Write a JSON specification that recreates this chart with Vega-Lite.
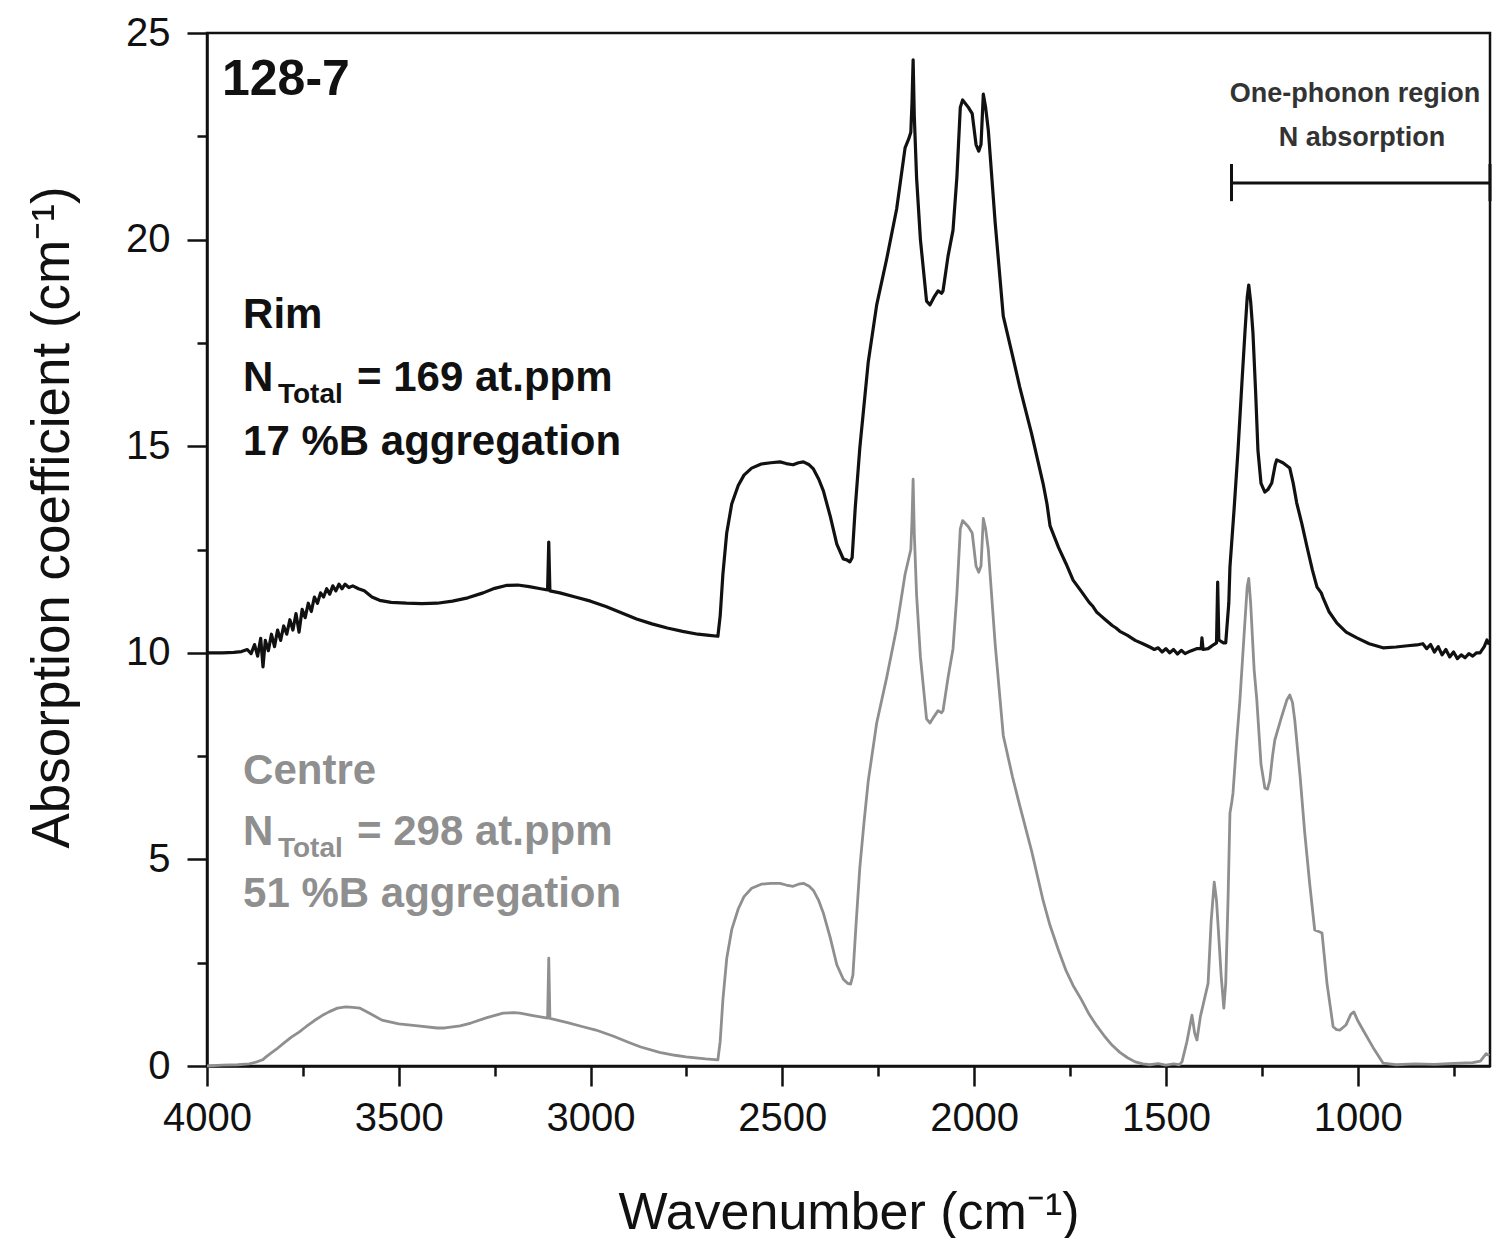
{
  "$schema": "https://vega.github.io/schema/vega-lite/v6.json",
  "width": 1283,
  "height": 1033,
  "autosize": {"type": "none"},
  "padding": {"left": 207, "top": 33, "right": 2, "bottom": 172},
  "background": "white",
  "config": {"view": {"stroke": "#111111", "strokeWidth": 2.5}, "font": "Liberation Sans"},
  "datasets": {
    "rim": [
      {"wn":4000,"a":10.0},{"wn":3960,"a":10.0},{"wn":3930,"a":10.01},{"wn":3910,"a":10.03},{"wn":3895,"a":10.08},{"wn":3885,"a":9.98},{"wn":3876,"a":10.2},{"wn":3868,"a":9.92},{"wn":3860,"a":10.35},{"wn":3854,"a":9.66},{"wn":3848,"a":10.3},{"wn":3840,"a":10.05},{"wn":3832,"a":10.45},{"wn":3824,"a":10.15},{"wn":3816,"a":10.55},{"wn":3808,"a":10.3},{"wn":3800,"a":10.65},{"wn":3792,"a":10.45},{"wn":3784,"a":10.8},{"wn":3776,"a":10.55},{"wn":3768,"a":10.95},{"wn":3760,"a":10.5},{"wn":3752,"a":11.05},{"wn":3744,"a":10.85},{"wn":3736,"a":11.2},{"wn":3728,"a":11.0},{"wn":3720,"a":11.35},{"wn":3712,"a":11.2},{"wn":3704,"a":11.45},{"wn":3696,"a":11.35},{"wn":3688,"a":11.55},{"wn":3680,"a":11.42},{"wn":3672,"a":11.62},{"wn":3664,"a":11.5},{"wn":3656,"a":11.66},{"wn":3648,"a":11.55},{"wn":3640,"a":11.66},{"wn":3630,"a":11.58},{"wn":3620,"a":11.62},{"wn":3605,"a":11.55},{"wn":3590,"a":11.5},{"wn":3570,"a":11.35},{"wn":3550,"a":11.27},{"wn":3520,"a":11.22},{"wn":3480,"a":11.2},{"wn":3440,"a":11.19},{"wn":3400,"a":11.2},{"wn":3360,"a":11.25},{"wn":3320,"a":11.33},{"wn":3280,"a":11.45},{"wn":3250,"a":11.56},{"wn":3220,"a":11.63},{"wn":3190,"a":11.64},{"wn":3160,"a":11.6},{"wn":3130,"a":11.55},{"wn":3112,"a":11.52},{"wn":3109,"a":12.68},{"wn":3106,"a":11.5},{"wn":3080,"a":11.45},{"wn":3040,"a":11.35},{"wn":3000,"a":11.25},{"wn":2960,"a":11.12},{"wn":2920,"a":10.97},{"wn":2880,"a":10.82},{"wn":2840,"a":10.7},{"wn":2800,"a":10.6},{"wn":2760,"a":10.52},{"wn":2720,"a":10.45},{"wn":2690,"a":10.42},{"wn":2668,"a":10.4},{"wn":2662,"a":10.9},{"wn":2655,"a":11.9},{"wn":2645,"a":12.9},{"wn":2632,"a":13.6},{"wn":2615,"a":14.05},{"wn":2600,"a":14.3},{"wn":2580,"a":14.47},{"wn":2555,"a":14.57},{"wn":2530,"a":14.6},{"wn":2506,"a":14.62},{"wn":2490,"a":14.58},{"wn":2472,"a":14.55},{"wn":2458,"a":14.6},{"wn":2445,"a":14.62},{"wn":2430,"a":14.55},{"wn":2419,"a":14.45},{"wn":2405,"a":14.2},{"wn":2393,"a":13.92},{"wn":2375,"a":13.3},{"wn":2358,"a":12.63},{"wn":2341,"a":12.27},{"wn":2332,"a":12.25},{"wn":2324,"a":12.2},{"wn":2318,"a":12.3},{"wn":2310,"a":13.5},{"wn":2298,"a":14.96},{"wn":2287,"a":16.0},{"wn":2276,"a":17.04},{"wn":2254,"a":18.42},{"wn":2228,"a":19.53},{"wn":2202,"a":20.74},{"wn":2180,"a":22.22},{"wn":2170,"a":22.45},{"wn":2165,"a":22.6},{"wn":2162,"a":23.3},{"wn":2159,"a":24.35},{"wn":2156,"a":23.0},{"wn":2150,"a":21.5},{"wn":2140,"a":20.0},{"wn":2124,"a":18.51},{"wn":2115,"a":18.42},{"wn":2105,"a":18.6},{"wn":2094,"a":18.76},{"wn":2085,"a":18.7},{"wn":2081,"a":18.76},{"wn":2068,"a":19.6},{"wn":2055,"a":20.23},{"wn":2045,"a":21.5},{"wn":2036,"a":23.2},{"wn":2030,"a":23.38},{"wn":2015,"a":23.2},{"wn":2005,"a":23.05},{"wn":1995,"a":22.3},{"wn":1988,"a":22.14},{"wn":1982,"a":22.3},{"wn":1976,"a":23.52},{"wn":1970,"a":23.2},{"wn":1963,"a":22.65},{"wn":1945,"a":20.4},{"wn":1924,"a":18.15},{"wn":1900,"a":17.2},{"wn":1881,"a":16.43},{"wn":1850,"a":15.3},{"wn":1820,"a":14.09},{"wn":1810,"a":13.6},{"wn":1802,"a":13.07},{"wn":1780,"a":12.55},{"wn":1760,"a":12.15},{"wn":1742,"a":11.76},{"wn":1720,"a":11.48},{"wn":1700,"a":11.22},{"wn":1690,"a":11.12},{"wn":1680,"a":10.98},{"wn":1670,"a":10.9},{"wn":1660,"a":10.82},{"wn":1650,"a":10.74},{"wn":1640,"a":10.66},{"wn":1630,"a":10.6},{"wn":1620,"a":10.52},{"wn":1600,"a":10.42},{"wn":1580,"a":10.3},{"wn":1560,"a":10.22},{"wn":1542,"a":10.14},{"wn":1530,"a":10.08},{"wn":1520,"a":10.12},{"wn":1510,"a":10.02},{"wn":1500,"a":10.1},{"wn":1490,"a":10.0},{"wn":1480,"a":10.08},{"wn":1470,"a":9.97},{"wn":1460,"a":10.06},{"wn":1450,"a":9.98},{"wn":1437,"a":10.04},{"wn":1420,"a":10.1},{"wn":1408,"a":10.1},{"wn":1406,"a":10.36},{"wn":1403,"a":10.08},{"wn":1390,"a":10.1},{"wn":1375,"a":10.2},{"wn":1368,"a":10.24},{"wn":1365,"a":11.71},{"wn":1362,"a":10.31},{"wn":1350,"a":10.24},{"wn":1344,"a":10.24},{"wn":1336,"a":11.2},{"wn":1333,"a":12.08},{"wn":1322,"a":13.5},{"wn":1312,"a":14.9},{"wn":1302,"a":16.5},{"wn":1294,"a":17.74},{"wn":1288,"a":18.6},{"wn":1284,"a":18.9},{"wn":1279,"a":18.5},{"wn":1273,"a":17.74},{"wn":1266,"a":16.3},{"wn":1260,"a":14.9},{"wn":1252,"a":14.1},{"wn":1242,"a":13.89},{"wn":1234,"a":13.95},{"wn":1224,"a":14.11},{"wn":1215,"a":14.55},{"wn":1211,"a":14.67},{"wn":1195,"a":14.6},{"wn":1177,"a":14.47},{"wn":1168,"a":14.1},{"wn":1159,"a":13.63},{"wn":1145,"a":13.1},{"wn":1132,"a":12.56},{"wn":1118,"a":12.0},{"wn":1106,"a":11.59},{"wn":1095,"a":11.45},{"wn":1091,"a":11.35},{"wn":1075,"a":11.0},{"wn":1054,"a":10.72},{"wn":1030,"a":10.5},{"wn":1002,"a":10.36},{"wn":970,"a":10.22},{"wn":934,"a":10.12},{"wn":900,"a":10.14},{"wn":870,"a":10.17},{"wn":846,"a":10.19},{"wn":830,"a":10.22},{"wn":820,"a":10.1},{"wn":810,"a":10.2},{"wn":800,"a":10.02},{"wn":790,"a":10.15},{"wn":780,"a":9.95},{"wn":770,"a":10.08},{"wn":760,"a":9.9},{"wn":750,"a":10.02},{"wn":740,"a":9.86},{"wn":730,"a":9.95},{"wn":720,"a":9.88},{"wn":710,"a":9.98},{"wn":700,"a":9.92},{"wn":690,"a":10.0},{"wn":681,"a":10.0},{"wn":670,"a":10.15},{"wn":663,"a":10.31},{"wn":657,"a":10.2}
    ],
    "centre": [
      {"wn":4000,"a":0.0},{"wn":3960,"a":0.02},{"wn":3920,"a":0.03},{"wn":3890,"a":0.05},{"wn":3870,"a":0.1},{"wn":3855,"a":0.15},{"wn":3846,"a":0.22},{"wn":3835,"a":0.3},{"wn":3820,"a":0.4},{"wn":3799,"a":0.56},{"wn":3780,"a":0.7},{"wn":3760,"a":0.82},{"wn":3742,"a":0.95},{"wn":3720,"a":1.1},{"wn":3700,"a":1.22},{"wn":3682,"a":1.31},{"wn":3660,"a":1.4},{"wn":3638,"a":1.43},{"wn":3620,"a":1.42},{"wn":3601,"a":1.4},{"wn":3575,"a":1.27},{"wn":3544,"a":1.11},{"wn":3500,"a":1.02},{"wn":3450,"a":0.97},{"wn":3400,"a":0.92},{"wn":3380,"a":0.92},{"wn":3340,"a":0.97},{"wn":3312,"a":1.04},{"wn":3270,"a":1.17},{"wn":3228,"a":1.28},{"wn":3200,"a":1.29},{"wn":3184,"a":1.28},{"wn":3150,"a":1.22},{"wn":3112,"a":1.16},{"wn":3109,"a":2.61},{"wn":3106,"a":1.15},{"wn":3060,"a":1.05},{"wn":3020,"a":0.95},{"wn":2986,"a":0.87},{"wn":2940,"a":0.72},{"wn":2900,"a":0.57},{"wn":2869,"a":0.46},{"wn":2820,"a":0.33},{"wn":2780,"a":0.26},{"wn":2751,"a":0.22},{"wn":2700,"a":0.17},{"wn":2668,"a":0.15},{"wn":2662,"a":0.6},{"wn":2655,"a":1.6},{"wn":2645,"a":2.6},{"wn":2632,"a":3.3},{"wn":2615,"a":3.8},{"wn":2600,"a":4.1},{"wn":2580,"a":4.3},{"wn":2555,"a":4.4},{"wn":2530,"a":4.42},{"wn":2506,"a":4.42},{"wn":2490,"a":4.38},{"wn":2472,"a":4.35},{"wn":2458,"a":4.4},{"wn":2445,"a":4.42},{"wn":2430,"a":4.35},{"wn":2419,"a":4.25},{"wn":2405,"a":4.0},{"wn":2393,"a":3.7},{"wn":2375,"a":3.1},{"wn":2358,"a":2.45},{"wn":2341,"a":2.1},{"wn":2330,"a":2.0},{"wn":2322,"a":1.98},{"wn":2316,"a":2.2},{"wn":2308,"a":3.4},{"wn":2298,"a":4.8},{"wn":2287,"a":5.9},{"wn":2276,"a":6.9},{"wn":2254,"a":8.3},{"wn":2228,"a":9.4},{"wn":2202,"a":10.6},{"wn":2180,"a":11.9},{"wn":2170,"a":12.3},{"wn":2165,"a":12.5},{"wn":2162,"a":13.2},{"wn":2159,"a":14.2},{"wn":2156,"a":12.9},{"wn":2150,"a":11.4},{"wn":2140,"a":9.9},{"wn":2124,"a":8.4},{"wn":2115,"a":8.3},{"wn":2105,"a":8.45},{"wn":2094,"a":8.6},{"wn":2085,"a":8.55},{"wn":2081,"a":8.6},{"wn":2068,"a":9.4},{"wn":2055,"a":10.1},{"wn":2045,"a":11.4},{"wn":2036,"a":13.0},{"wn":2030,"a":13.2},{"wn":2015,"a":13.05},{"wn":2005,"a":12.9},{"wn":1995,"a":12.1},{"wn":1988,"a":11.95},{"wn":1982,"a":12.1},{"wn":1976,"a":13.25},{"wn":1970,"a":13.0},{"wn":1963,"a":12.5},{"wn":1945,"a":10.2},{"wn":1924,"a":8.0},{"wn":1900,"a":7.0},{"wn":1881,"a":6.3},{"wn":1850,"a":5.2},{"wn":1820,"a":4.0},{"wn":1802,"a":3.4},{"wn":1780,"a":2.8},{"wn":1760,"a":2.3},{"wn":1742,"a":1.95},{"wn":1720,"a":1.6},{"wn":1700,"a":1.25},{"wn":1680,"a":0.97},{"wn":1660,"a":0.72},{"wn":1640,"a":0.5},{"wn":1620,"a":0.33},{"wn":1600,"a":0.2},{"wn":1580,"a":0.1},{"wn":1560,"a":0.05},{"wn":1542,"a":0.03},{"wn":1520,"a":0.06},{"wn":1500,"a":0.02},{"wn":1480,"a":0.05},{"wn":1465,"a":0.03},{"wn":1458,"a":0.1},{"wn":1445,"a":0.6},{"wn":1432,"a":1.23},{"wn":1425,"a":0.8},{"wn":1419,"a":0.63},{"wn":1410,"a":1.2},{"wn":1403,"a":1.48},{"wn":1395,"a":1.8},{"wn":1390,"a":2.0},{"wn":1382,"a":3.5},{"wn":1374,"a":4.45},{"wn":1368,"a":4.0},{"wn":1364,"a":3.41},{"wn":1356,"a":2.2},{"wn":1349,"a":1.4},{"wn":1344,"a":2.0},{"wn":1338,"a":4.02},{"wn":1333,"a":6.12},{"wn":1328,"a":6.4},{"wn":1325,"a":6.61},{"wn":1316,"a":7.8},{"wn":1307,"a":8.86},{"wn":1295,"a":10.6},{"wn":1288,"a":11.6},{"wn":1284,"a":11.8},{"wn":1279,"a":11.2},{"wn":1270,"a":9.6},{"wn":1263,"a":8.86},{"wn":1252,"a":7.3},{"wn":1242,"a":6.73},{"wn":1235,"a":6.7},{"wn":1229,"a":6.92},{"wn":1222,"a":7.5},{"wn":1216,"a":7.89},{"wn":1200,"a":8.4},{"wn":1185,"a":8.85},{"wn":1177,"a":8.98},{"wn":1170,"a":8.8},{"wn":1164,"a":8.37},{"wn":1150,"a":7.0},{"wn":1138,"a":5.64},{"wn":1125,"a":4.4},{"wn":1112,"a":3.29},{"wn":1100,"a":3.25},{"wn":1093,"a":3.22},{"wn":1080,"a":2.0},{"wn":1064,"a":0.95},{"wn":1055,"a":0.88},{"wn":1046,"a":0.87},{"wn":1030,"a":1.0},{"wn":1018,"a":1.25},{"wn":1010,"a":1.31},{"wn":1000,"a":1.1},{"wn":986,"a":0.87},{"wn":960,"a":0.45},{"wn":934,"a":0.07},{"wn":900,"a":0.03},{"wn":850,"a":0.05},{"wn":800,"a":0.04},{"wn":750,"a":0.06},{"wn":700,"a":0.08},{"wn":680,"a":0.12},{"wn":665,"a":0.3},{"wn":657,"a":0.25}
    ],
    "notes": [
      {"kind": "id", "label": "128-7", "wn": 3961, "a": 23.5},
      {"kind": "rim", "label": "Rim", "wn": 3906, "a": 17.86},
      {"kind": "rim", "label": "N", "wn": 3906, "a": 16.34},
      {"kind": "rimsub", "label": "Total", "wn": 3815, "a": 16.05},
      {"kind": "rim", "label": "= 169 at.ppm", "wn": 3609, "a": 16.34},
      {"kind": "rim", "label": "17 %B aggregation", "wn": 3906, "a": 14.79},
      {"kind": "centre", "label": "Centre", "wn": 3906, "a": 6.82},
      {"kind": "centre", "label": "N", "wn": 3906, "a": 5.35},
      {"kind": "centresub", "label": "Total", "wn": 3815, "a": 5.06},
      {"kind": "centre", "label": "= 298 at.ppm", "wn": 3609, "a": 5.35},
      {"kind": "centre", "label": "51 %B aggregation", "wn": 3906, "a": 3.85},
      {"kind": "region", "label": "One-phonon region", "wn": 1007, "a": 23.33},
      {"kind": "region", "label": "N absorption", "wn": 989, "a": 22.27}
    ],
    "span": [{"from": 1329, "to": 655, "a": 21.37}],
    "caps": [{"wn": 1329, "lo": 20.93, "hi": 21.83}, {"wn": 655, "lo": 20.93, "hi": 21.83}]
  },
  "layer": [
    {
      "data": {"name": "rim"},
      "mark": {"type": "line", "color": "#111111", "strokeWidth": 3.2, "strokeJoin": "round"},
      "encoding": {
        "x": {"field": "wn", "type": "quantitative", "scale": {"domain": [655, 4000], "reverse": true, "nice": false, "zero": false},
          "axis": {
            "values": [4000,3750,3500,3250,3000,2750,2500,2250,2000,1750,1500,1250,1000,750],
            "format": "d",
            "labelExpr": "datum.value % 500 === 0 ? datum.label : ''",
            "tickSize": {"condition": {"test": "datum.value % 500 === 0", "value": 20}, "value": 10},
            "tickWidth": 2.5, "tickColor": "#111111", "domainColor": "#111111", "domainWidth": 2.5,
            "labelFontSize": 40, "labelColor": "#111111", "labelFont": "Liberation Sans", "labelPadding": 12,
            "labelFlush": false, "labelOverlap": false, "grid": false,
            "title": "Wavenumber (cm⁻¹)", "titleFontSize": 52, "titleFontWeight": "normal", "titleColor": "#111111",
            "titleFont": "Liberation Sans", "titleBaseline": "alphabetic", "titleY": 162
          }},
        "y": {"field": "a", "type": "quantitative", "scale": {"domain": [0, 25], "nice": false},
          "axis": {
            "values": [0,2.5,5,7.5,10,12.5,15,17.5,20,22.5,25],
            "format": "d",
            "labelExpr": "datum.value % 5 === 0 ? datum.label : ''",
            "tickSize": {"condition": {"test": "datum.value % 5 === 0", "value": 20}, "value": 10},
            "tickWidth": 2.5, "tickColor": "#111111", "domainColor": "#111111", "domainWidth": 2.5,
            "labelFontSize": 40, "labelColor": "#111111", "labelFont": "Liberation Sans", "labelPadding": 17,
            "labelOverlap": false, "grid": false,
            "title": "Absorption coefficient (cm⁻¹)", "titleFontSize": 53, "titleFontWeight": "normal", "titleColor": "#111111",
            "titleFont": "Liberation Sans", "titleBaseline": "alphabetic", "titleAlign": "center", "titleAngle": -90,
            "titleX": -139, "titleY": 484
          }}
      }
    },
    {
      "data": {"name": "centre"},
      "mark": {"type": "line", "color": "#8f8f8f", "strokeWidth": 2.8, "strokeJoin": "round"},
      "encoding": {
        "x": {"field": "wn", "type": "quantitative"},
        "y": {"field": "a", "type": "quantitative"}
      }
    },
    {
      "data": {"name": "span"},
      "mark": {"type": "rule", "color": "#111111", "strokeWidth": 3},
      "encoding": {
        "x": {"field": "from", "type": "quantitative"},
        "x2": {"field": "to"},
        "y": {"field": "a", "type": "quantitative"}
      }
    },
    {
      "data": {"name": "caps"},
      "mark": {"type": "rule", "color": "#111111", "strokeWidth": 3},
      "encoding": {
        "x": {"field": "wn", "type": "quantitative"},
        "y": {"field": "lo", "type": "quantitative"},
        "y2": {"field": "hi"}
      }
    },
    {
      "data": {"name": "notes"},
      "transform": [{"filter": "datum.kind === 'id'"}],
      "mark": {"type": "text", "align": "left", "baseline": "alphabetic", "fontSize": 50, "fontWeight": "bold", "font": "Liberation Sans", "color": "#111111"},
      "encoding": {"x": {"field": "wn", "type": "quantitative"}, "y": {"field": "a", "type": "quantitative"}, "text": {"field": "label"}}
    },
    {
      "data": {"name": "notes"},
      "transform": [{"filter": "datum.kind === 'rim'"}],
      "mark": {"type": "text", "align": "left", "baseline": "alphabetic", "fontSize": 42, "fontWeight": "bold", "font": "Liberation Sans", "color": "#111111"},
      "encoding": {"x": {"field": "wn", "type": "quantitative"}, "y": {"field": "a", "type": "quantitative"}, "text": {"field": "label"}}
    },
    {
      "data": {"name": "notes"},
      "transform": [{"filter": "datum.kind === 'rimsub'"}],
      "mark": {"type": "text", "align": "left", "baseline": "alphabetic", "fontSize": 28, "fontWeight": "bold", "font": "Liberation Sans", "color": "#111111"},
      "encoding": {"x": {"field": "wn", "type": "quantitative"}, "y": {"field": "a", "type": "quantitative"}, "text": {"field": "label"}}
    },
    {
      "data": {"name": "notes"},
      "transform": [{"filter": "datum.kind === 'centre'"}],
      "mark": {"type": "text", "align": "left", "baseline": "alphabetic", "fontSize": 42, "fontWeight": "bold", "font": "Liberation Sans", "color": "#8f8f8f"},
      "encoding": {"x": {"field": "wn", "type": "quantitative"}, "y": {"field": "a", "type": "quantitative"}, "text": {"field": "label"}}
    },
    {
      "data": {"name": "notes"},
      "transform": [{"filter": "datum.kind === 'centresub'"}],
      "mark": {"type": "text", "align": "left", "baseline": "alphabetic", "fontSize": 28, "fontWeight": "bold", "font": "Liberation Sans", "color": "#8f8f8f"},
      "encoding": {"x": {"field": "wn", "type": "quantitative"}, "y": {"field": "a", "type": "quantitative"}, "text": {"field": "label"}}
    },
    {
      "data": {"name": "notes"},
      "transform": [{"filter": "datum.kind === 'region'"}],
      "mark": {"type": "text", "align": "center", "baseline": "alphabetic", "fontSize": 27, "fontWeight": "bold", "font": "Liberation Sans", "color": "#333333"},
      "encoding": {"x": {"field": "wn", "type": "quantitative"}, "y": {"field": "a", "type": "quantitative"}, "text": {"field": "label"}}
    }
  ]
}
